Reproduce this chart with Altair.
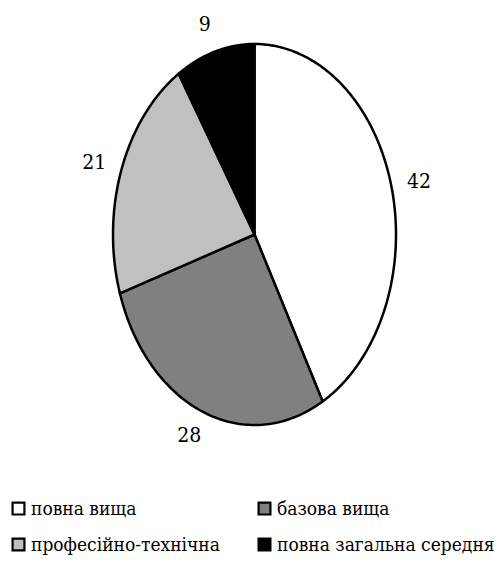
import math
import altair as alt

categories = ["повна вища", "базова вища", "професійно-технічна", "повна загальна середня"]
values = [42, 28, 21, 9]
colors = ["#FFFFFF", "#808080", "#C0C0C0", "#000000"]

# ellipse geometry (layout constants, pixels)
RX, RY = 141.5, 190.5
CX, CY = 254.5, 234.5
LABEL_GAP = 28
FONT = "DejaVu Serif Condensed"

total = sum(values)
features = []
labels = []
cum = 0
for cat, v in zip(categories, values):
    a0 = cum / total * 2 * math.pi
    cum += v
    a1 = cum / total * 2 * math.pi
    n = max(2, int(math.degrees(a1 - a0))) + 1
    ring = [[0.0, 0.0]]
    for i in range(n + 1):
        a = a0 + (a1 - a0) * i / n
        ring.append([RX * math.sin(a), RY * math.cos(a)])
    ring.append([0.0, 0.0])
    features.append({"type": "Feature", "properties": {"cat": cat},
                     "geometry": {"type": "Polygon", "coordinates": [ring]}})
    am = (a0 + a1) / 2
    s, c = math.sin(am), math.cos(am)
    nx, ny = s / RX, c / RY
    nl = math.hypot(nx, ny)
    labels.append({"cat": cat, "v": v,
                   "lon": RX * s + LABEL_GAP * nx / nl,
                   "lat": RY * c + LABEL_GAP * ny / nl})

proj = dict(type="identity", reflectY=True, scale=1, translate=[CX, CY])

color = alt.Color(
    "properties.cat:N",
    scale=alt.Scale(domain=categories, range=colors),
    legend=alt.Legend(
        title=None, orient="none", legendX=9, legendY=499, columns=2,
        direction="horizontal",
        symbolType="square", symbolSize=140, symbolStrokeColor="black",
        symbolStrokeWidth=2.2, symbolOpacity=1,
        labelFont=FONT, labelFontSize=19, labelColor="black",
        labelLimit=400, columnPadding=34, rowPadding=15, labelOffset=3,
    ),
)

pie = alt.Chart(alt.Data(values=features)).mark_geoshape(
    stroke="black", strokeWidth=2.5, strokeJoin="round", opacity=1
).encode(color=color).project(**proj)

text = alt.Chart(alt.Data(values=labels)).mark_text(
    font=FONT, fontSize=21, color="black", align="center", baseline="middle"
).encode(longitude="lon:Q", latitude="lat:Q", text="v:Q").project(**proj)

chart = alt.layer(pie, text).properties(
    width=500, height=570, padding=0, autosize="none"
).configure_view(stroke=None)

chart.save("out.html", embed_options={"renderer": "svg", "actions": False})
